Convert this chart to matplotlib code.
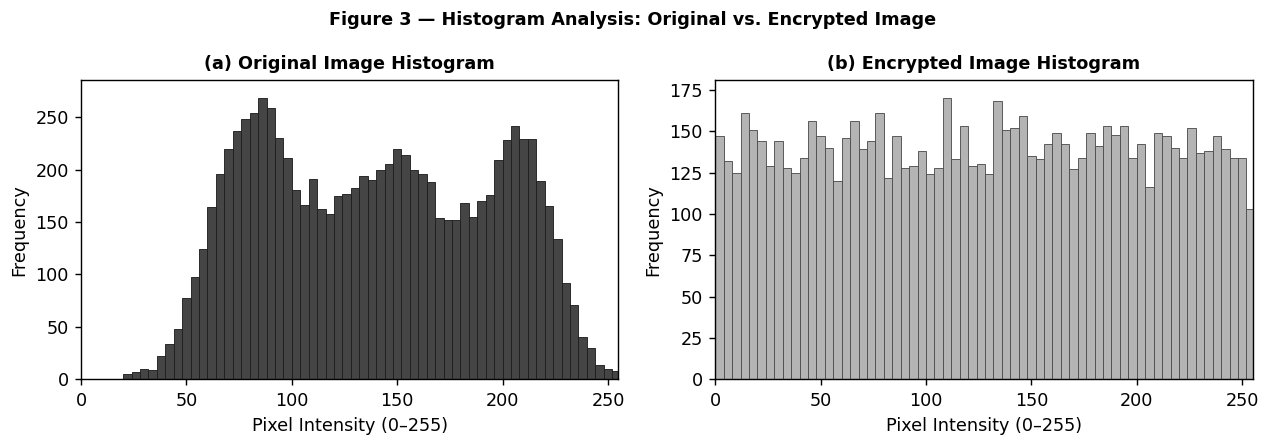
import numpy as np
import matplotlib
matplotlib.use("Agg")
import matplotlib.pyplot as plt
from matplotlib.ticker import MultipleLocator

# 64 bins of width 4 over 0..256
bin_edges = np.arange(0, 257, 4)

original_counts = [
    0, 0, 0, 0, 0, 5, 7, 10, 9, 22,
    34, 48, 78, 98, 124, 164, 196, 220, 237, 248,
    254, 268, 259, 230, 211, 181, 166, 191, 162, 158,
    175, 177, 182, 194, 190, 200, 205, 220, 214, 200,
    196, 188, 154, 152, 152, 168, 155, 170, 176, 209,
    228, 242, 229, 229, 189, 165, 134, 92, 71, 40,
    30, 14, 10, 8,
]

encrypted_counts = [
    147, 132, 125, 161, 151, 144, 129, 144, 128, 125,
    134, 156, 147, 140, 120, 146, 156, 139, 144, 161,
    122, 147, 128, 129, 138, 124, 128, 170, 133, 153,
    129, 130, 124, 168, 151, 152, 159, 135, 133, 142,
    149, 142, 127, 134, 149, 141, 153, 148, 153, 134,
    142, 116, 149, 147, 140, 134, 152, 137, 138, 147,
    139, 134, 134, 103,
]

centers = bin_edges[:-1] + 2

fig, (ax1, ax2) = plt.subplots(1, 2, figsize=(10, 3.452), dpi=126.6)
fig.subplots_adjust(left=0.064, right=0.9895, bottom=0.132, top=0.817, wspace=0.18)

ax1.hist(centers, bins=bin_edges, weights=original_counts,
         color="#454545", edgecolor="#1e1e1e", linewidth=0.5)
ax1.set_title("(a) Original Image Histogram", fontweight="bold", fontsize=10)
ax1.set_xlabel("Pixel Intensity (0\u2013255)")
ax1.set_ylabel("Frequency")
ax1.set_xlim(0, 255)
ax1.set_ylim(0, 285.5)

ax2.hist(centers, bins=bin_edges, weights=encrypted_counts,
         color="#b4b4b4", edgecolor="#4d4d4d", linewidth=0.5)
ax2.set_title("(b) Encrypted Image Histogram", fontweight="bold", fontsize=10)
ax2.set_xlabel("Pixel Intensity (0\u2013255)")
ax2.set_ylabel("Frequency")
ax2.set_xlim(0, 255)
ax2.set_ylim(0, 181)
ax2.yaxis.set_major_locator(MultipleLocator(25))

fig.suptitle("Figure 3 \u2014 Histogram Analysis: Original vs. Encrypted Image",
             fontweight="bold", fontsize=10, y=0.975)

fig.savefig("out.png", dpi=126.6)
